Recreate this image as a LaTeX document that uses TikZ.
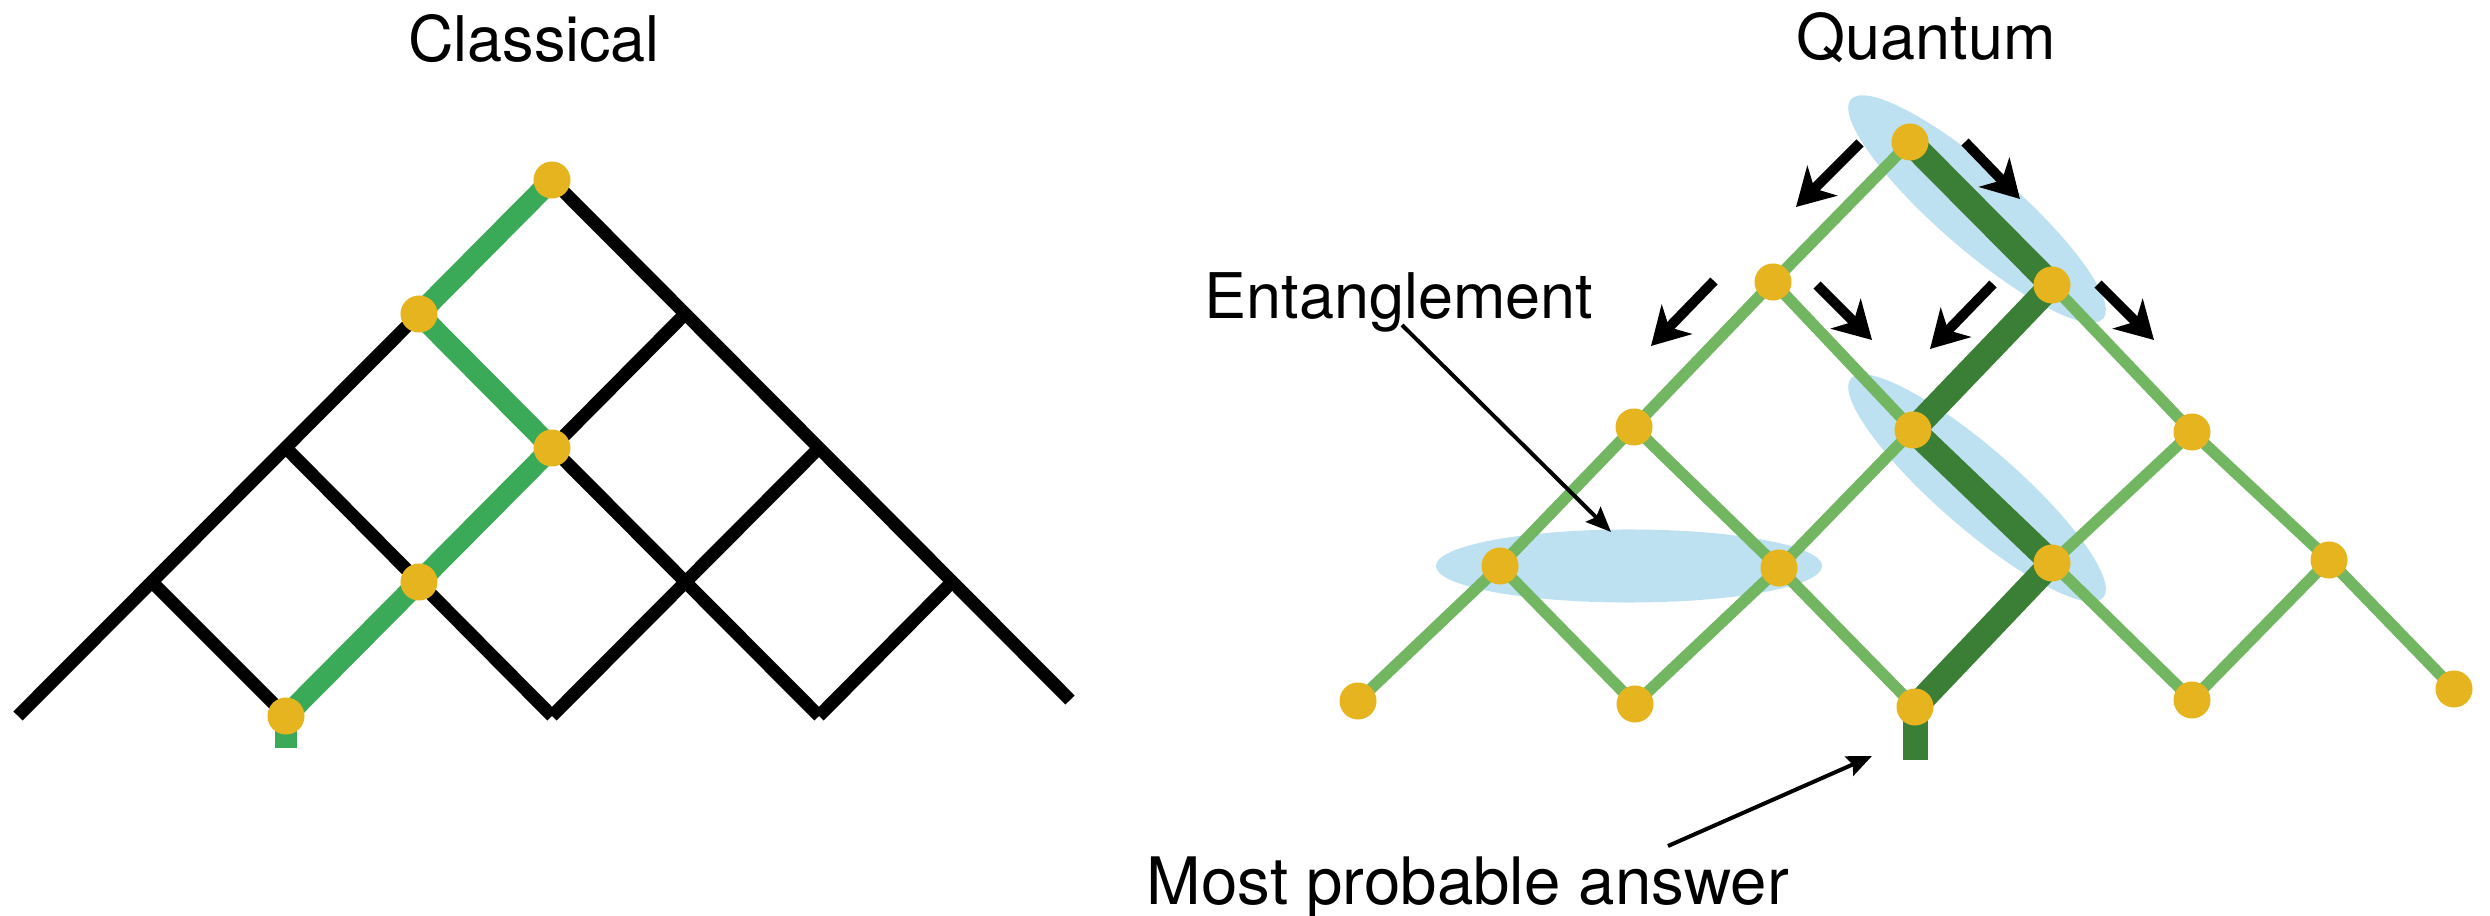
\documentclass[tikz,border=0pt]{standalone}
\usepackage{fontspec}
\setmainfont{TeX Gyre Heros}
\usetikzlibrary{arrows.meta,calc}
\definecolor{cgreen}{RGB}{58,170,88}
\definecolor{qlight}{RGB}{114,182,98}
\definecolor{qdark}{RGB}{58,127,53}
\definecolor{dotc}{RGB}{230,180,30}
\definecolor{entb}{RGB}{190,225,241}
\begin{document}
\begin{tikzpicture}[x=0.01cm,y=-0.01cm,
  blackedge/.style={line width=0.13cm, draw=black},
  greenpath/.style={line width=0.21cm, draw=cgreen, line join=round},
  qedge/.style={line width=0.115cm, draw=qlight},
  qpath/.style={line width=0.25cm, draw=qdark, line join=round},
  dot/.style={circle, fill=dotc, inner sep=0pt, minimum size=0.37cm},
  flow/.style={line width=0.1cm, -{Stealth[length=0.37cm,width=0.42cm,inset=0.11cm]}},
  callout/.style={line width=0.04cm, -{Stealth[length=0.25cm,width=0.21cm,inset=0.04cm]}},
  lbl/.style={font=\fontsize{17.9pt}{21pt}\selectfont, inner sep=0pt, anchor=base},
  ent/.style={fill=entb}
]
\useasboundingbox (0,0) rectangle (2490,916);

% ---------- Classical lattice points ----------
\coordinate (C00) at (552,180);
\coordinate (C1a) at (419,314);  \coordinate (C1b) at (685,314);
\coordinate (C2a) at (286,448);  \coordinate (C2b) at (552,448);  \coordinate (C2c) at (819,448);
\coordinate (C3a) at (152,582);  \coordinate (C3b) at (419,582);  \coordinate (C3c) at (685,582);  \coordinate (C3d) at (952,582);
\coordinate (C4a) at (18,716);   \coordinate (C4b) at (286,716);  \coordinate (C4c) at (552,716);  \coordinate (C4d) at (819,716);
\coordinate (Cend) at (1070,700);
\coordinate (Cstub) at (286,748);

% ---------- Quantum lattice points ----------
\coordinate (Q00) at (1910,142);
\coordinate (Q1a) at (1773,282); \coordinate (Q1b) at (2052,285);
\coordinate (Q2a) at (1634,427); \coordinate (Q2b) at (1913,430); \coordinate (Q2c) at (2192,432);
\coordinate (Q3a) at (1500,566); \coordinate (Q3b) at (1779,568); \coordinate (Q3c) at (2052,563); \coordinate (Q3d) at (2329,560);
\coordinate (Q4a) at (1358,701); \coordinate (Q4b) at (1635,704); \coordinate (Q4c) at (1915,707); \coordinate (Q4d) at (2192,700); \coordinate (Q4e) at (2454,689);
\coordinate (Qstub) at (1915,760);

% ---------- Titles ----------
\node[lbl] (tClassical) at (534,62) {Classical};
\node[lbl] (tQuantum) at (1926,60) {Quantum};

% ---------- Classical drawing ----------
\draw[blackedge] (C00) -- (Cend);
\draw[blackedge] (C1a) -- (C4a);
\draw[blackedge] (C2b) -- (C4d);
\draw[blackedge] (C2a) -- (C4c);
\draw[blackedge] (C3a) -- (C4b);
\draw[blackedge] (C1b) -- (C2b);
\draw[blackedge] (C2c) -- (C4c);
\draw[blackedge] (C3d) -- (C4d);
\draw[greenpath] (C00) -- (C1a) -- (C2b) -- (C3b) -- (C4b);
\draw[greenpath] (C4b) -- (Cstub);
\foreach \n in {C00,C1a,C2b,C3b,C4b} \node[dot] (dot\n) at (\n) {};

% ---------- Quantum: entanglement ellipses ----------
\coordinate (E1) at (1977,209);
\coordinate (E2) at (1977,488);
\coordinate (E3) at (1629,566);
\fill[ent, rotate around={-41:(E1)}] (E1) ellipse [x radius=1.67cm, y radius=0.40cm];
\fill[ent, rotate around={-41:(E2)}] (E2) ellipse [x radius=1.67cm, y radius=0.40cm];
\fill[ent] (E3) ellipse [x radius=1.93cm, y radius=0.365cm];

% ---------- Quantum lattice ----------
\draw[qedge] (Q00)--(Q1a) (Q1a)--(Q2a) (Q1a)--(Q2b) (Q1b)--(Q2c)
  (Q2a)--(Q3a) (Q2a)--(Q3b) (Q2b)--(Q3b) (Q2c)--(Q3c) (Q2c)--(Q3d)
  (Q3a)--(Q4a) (Q3a)--(Q4b) (Q3b)--(Q4b) (Q3b)--(Q4c) (Q3c)--(Q4d)
  (Q3d)--(Q4d) (Q3d)--(Q4e);
\draw[qpath] (Q00) -- (Q1b) -- (Q2b) -- (Q3c) -- (Q4c);
\draw[qpath] (Q4c) -- (Qstub);
\foreach \n in {Q00,Q1a,Q1b,Q2a,Q2b,Q2c,Q3a,Q3b,Q3c,Q3d,Q4a,Q4b,Q4c,Q4d,Q4e} \node[dot] (dot\n) at (\n) {};

% ---------- Flow arrows ----------
\coordinate (f1s) at ($(Q00)+(-50,1)$);   \coordinate (f1e) at ($(Q00)+(-114,65)$);
\coordinate (f2s) at ($(Q00)+(55,0)$);    \coordinate (f2e) at ($(Q00)+(110,57)$);
\coordinate (f3s) at ($(Q1a)+(44,3)$);    \coordinate (f3e) at ($(Q1a)+(99,58)$);
\coordinate (f4s) at ($(Q1b)+(-59,-1)$);  \coordinate (f4e) at ($(Q1b)+(-122,64)$);
\coordinate (f5s) at ($(Q1b)+(46,-1)$);   \coordinate (f5e) at ($(Q1b)+(102,55)$);
\coordinate (f6s) at ($(Q1a)+(-59,-1)$);  \coordinate (f6e) at ($(Q1a)+(-122,64)$);
\foreach \i in {1,...,6} \draw[flow] (f\i s) -- (f\i e);

% ---------- Labels with callouts ----------
\node[lbl] (tEnt) at (1399,319) {Entanglement};
\coordinate (entS) at (1402,325);
\coordinate (entT) at (1611,532);
\draw[callout] (entS) -- (entT);

\node[lbl, font=\fontsize{18.6pt}{21pt}\selectfont] (tMost) at (1468,905) {Most probable answer};
\coordinate (mostS) at (1668,846);
\coordinate (mostT) at (1872,756);
\draw[callout] (mostS) -- (mostT);
\end{tikzpicture}
\end{document}
